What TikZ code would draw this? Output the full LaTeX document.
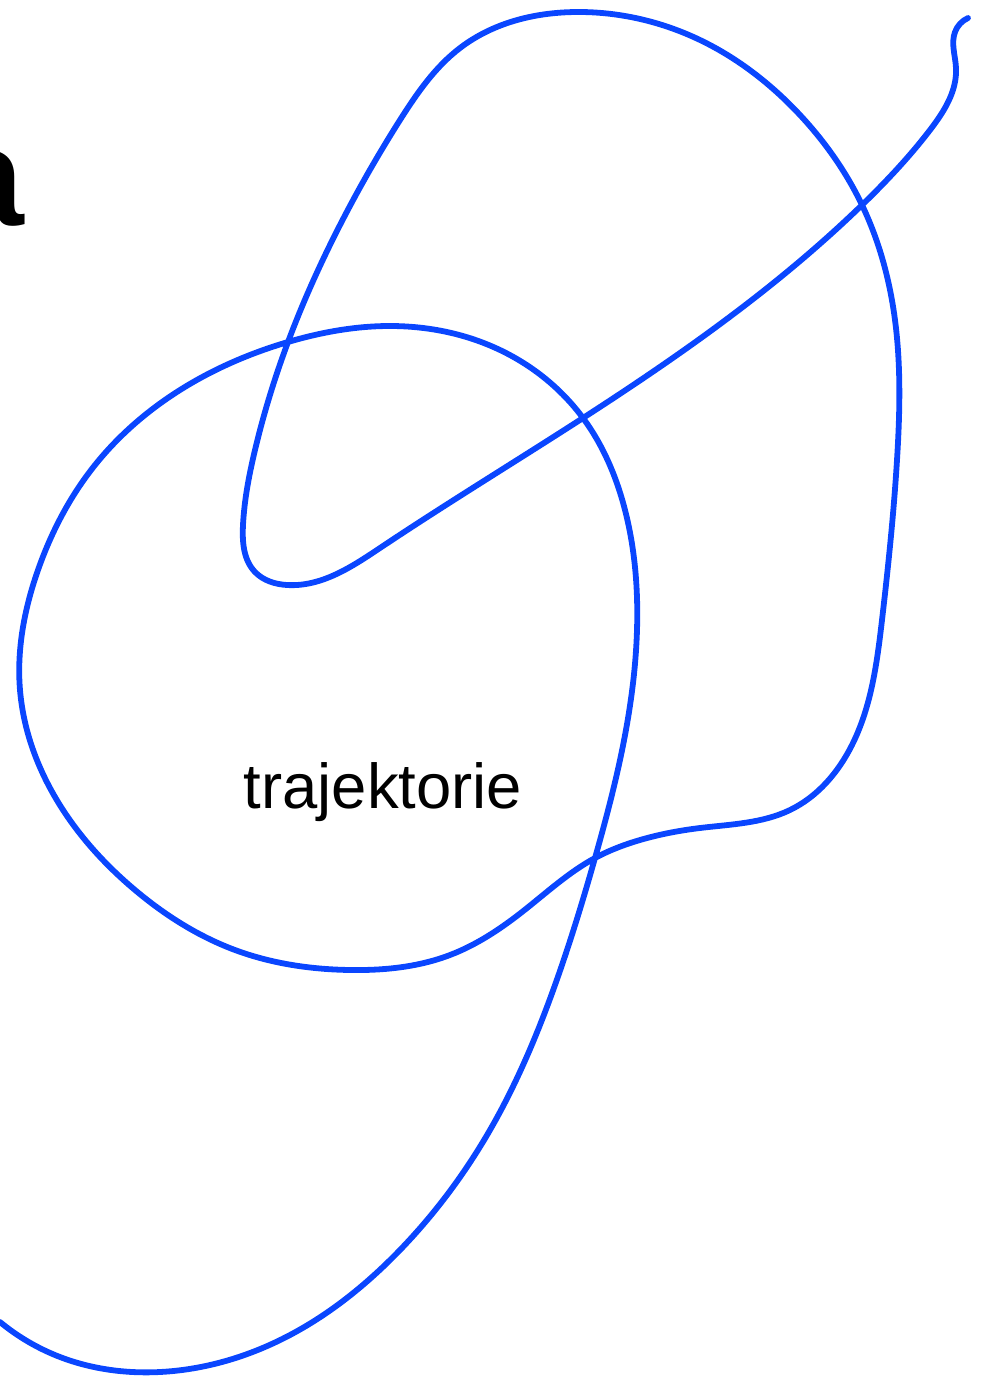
\documentclass[tikz,border=0pt]{standalone}
\usepackage{fontspec}
\setmainfont{Liberation Sans}
\newfontfamily\slabfont{Liberation Mono}
\usetikzlibrary{hobby}
\definecolor{trajblue}{RGB}{10,70,255}

\begin{document}
\begin{tikzpicture}[x=0.5pt,y=-0.5pt,traj/.style={draw=trajblue,line width=2.9pt,line cap=round}]
\clip (0,0) rectangle (983,1376);
\useasboundingbox (0,0) rectangle (983,1376);
\node[anchor=base west,inner sep=0] (lettera) at (-56,225) {\slabfont\bfseries\fontsize{70}{80}\selectfont a};
\node[anchor=base,inner sep=0] (trajlabel) at (383,808) {\fontsize{31.7}{38}\selectfont trajektorie};
% the trajectory
\draw[traj,use Hobby shortcut] (968,18) .. (955,32) .. (956,68) .. (930,130) .. (862,205)
 .. (583,418) .. (380,548) .. (287,585) .. (255,572)
 .. (243,525) .. (255,450) .. (288,342) .. (340,225) .. (400,120) .. (460,48) .. (580,12)
 .. (700,40) .. (800,115) .. (862,205) .. (895,320) .. (897,460) .. (882,620) .. (852,745)
 .. (790,810) .. (700,828) .. (640,840) .. (595,858) .. (522,912) .. (450,955) .. (350,970)
 .. (235,950) .. (135,890) .. (58,802) .. (20,690) .. (38,570) .. (95,465) .. (180,390)
 .. (288,342) .. (390,326) .. (500,350) .. (583,418) .. (625,510) .. (637,630) .. (620,760)
 .. (595,858) .. (555,985) .. (490,1130) .. (400,1250) .. (290,1335) .. (160,1372) .. (60,1357)
 .. (0,1322);
\end{tikzpicture}
\end{document}
